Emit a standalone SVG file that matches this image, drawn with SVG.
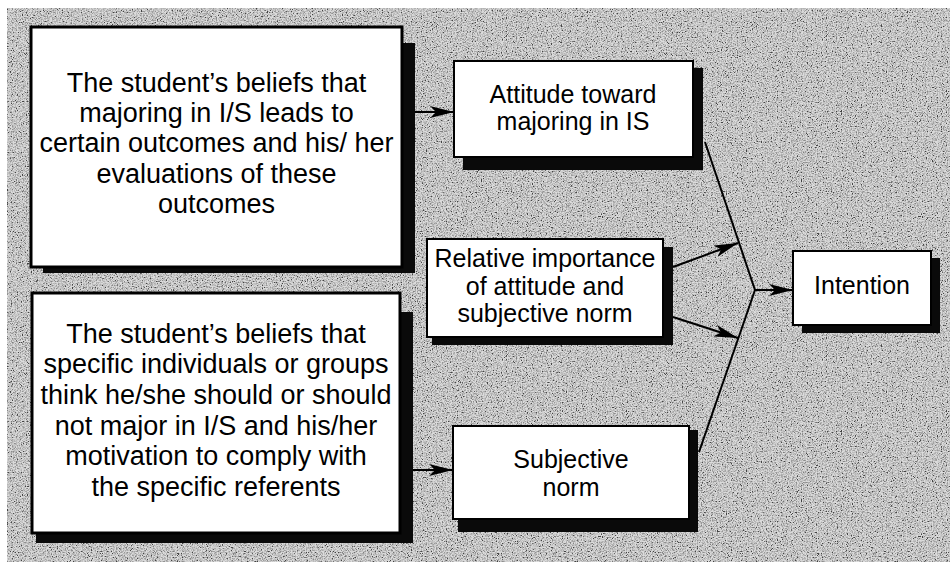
<svg xmlns="http://www.w3.org/2000/svg" width="950" height="565" viewBox="0 0 950 565">
<style>
.bg{fill:#a9a9a9}
.box{fill:#ffffff;stroke:#000;stroke-width:2}
.big{stroke-width:3}
.shadow{fill:#0a0a0a}
.t{font-family:"Liberation Sans",Arial,sans-serif;fill:#000;text-anchor:middle}
.tl{font-size:27px}
.ts{font-size:25px}
.con{stroke:#000;stroke-width:2;fill:none}
</style>
<defs>
<filter id="grain" x="0" y="0" width="100%" height="100%" filterUnits="objectBoundingBox">
<feTurbulence type="fractalNoise" baseFrequency="0.8" numOctaves="2" seed="7" result="n"/>
<feColorMatrix in="n" type="matrix" values="0.33 0.33 0.33 0 0 0.33 0.33 0.33 0 0 0.33 0.33 0.33 0 0 0 0 0 0 1" result="g"/>
<feComponentTransfer in="g">
<feFuncR type="linear" slope="5" intercept="-1.8"/>
<feFuncG type="linear" slope="5" intercept="-1.8"/>
<feFuncB type="linear" slope="5" intercept="-1.8"/>
</feComponentTransfer>
</filter>
<marker id="ah" viewBox="0 0 12 6" markerWidth="12" markerHeight="6" refX="12" refY="3" orient="auto" markerUnits="strokeWidth">
<path d="M0,0 L12,3 L0,6 L3,3 Z" fill="#000"/>
</marker>
</defs>
<rect class="bg" x="7" y="8" width="943" height="554"/>
<rect x="7" y="8" width="943" height="554" filter="url(#grain)" opacity="0.6"/>

<g id="connectors">
<line class="con" x1="415" y1="112" x2="454" y2="112" marker-end="url(#ah)"/>
<line class="con" x1="413" y1="470" x2="453" y2="470" marker-end="url(#ah)"/>
<line class="con" x1="705" y1="142" x2="755" y2="290"/>
<line class="con" x1="699" y1="452" x2="755" y2="290"/>
<line class="con" x1="755" y1="290" x2="793" y2="290" marker-end="url(#ah)"/>
<line class="con" x1="673" y1="267" x2="738" y2="243" marker-end="url(#ah)"/>
<line class="con" x1="673" y1="317" x2="738" y2="338" marker-end="url(#ah)"/>
</g>

<g id="beliefs-outcomes">
<path class="shadow" d="M402,43 H415 V273 H43 V267 H402 Z"/>
<rect class="box big" x="31" y="27" width="371" height="240"/>
<text class="t tl" x="216.5" y="92">The student’s beliefs that</text>
<text class="t tl" x="216.5" y="122">majoring in I/S leads to</text>
<text class="t tl" x="216.5" y="152">certain outcomes and his/ her</text>
<text class="t tl" x="216.5" y="183">evaluations of these</text>
<text class="t tl" x="216.5" y="213">outcomes</text>
</g>

<g id="beliefs-referents">
<path class="shadow" d="M400,312 H413 V543 H36 V533 H400 Z"/>
<rect class="box big" x="32" y="293" width="368" height="240"/>
<text class="t tl" x="216" y="343">The student’s beliefs that</text>
<text class="t tl" x="216" y="373">specific individuals or groups</text>
<text class="t tl" x="216" y="404">think he/she should or should</text>
<text class="t tl" x="216" y="435">not major in I/S and his/her</text>
<text class="t tl" x="216" y="465">motivation to comply with</text>
<text class="t tl" x="216" y="496">the specific referents</text>
</g>

<g id="attitude">
<path class="shadow" d="M693,68 H703 V170 H463 V157 H693 Z"/>
<rect class="box" x="454" y="61" width="239" height="96"/>
<text class="t ts" x="573" y="103">Attitude toward</text>
<text class="t ts" x="573" y="130">majoring in IS</text>
</g>

<g id="relative-importance">
<path class="shadow" d="M663,247 H673 V345 H432 V337 H663 Z"/>
<rect class="box" x="427" y="239" width="236" height="98"/>
<text class="t ts" x="545" y="267">Relative importance</text>
<text class="t ts" x="545" y="295">of attitude and</text>
<text class="t ts" x="545" y="322">subjective norm</text>
</g>

<g id="subjective-norm">
<path class="shadow" d="M689,430 H698 V532 H458 V519 H689 Z"/>
<rect class="box" x="453" y="426" width="236" height="93"/>
<text class="t ts" x="571" y="468">Subjective</text>
<text class="t ts" x="571" y="496">norm</text>
</g>

<g id="intention">
<path class="shadow" d="M931,258 H940 V333 H802 V325 H931 Z"/>
<rect class="box" x="793" y="251" width="138" height="74"/>
<text class="t ts" x="862" y="294">Intention</text>
</g>
</svg>
